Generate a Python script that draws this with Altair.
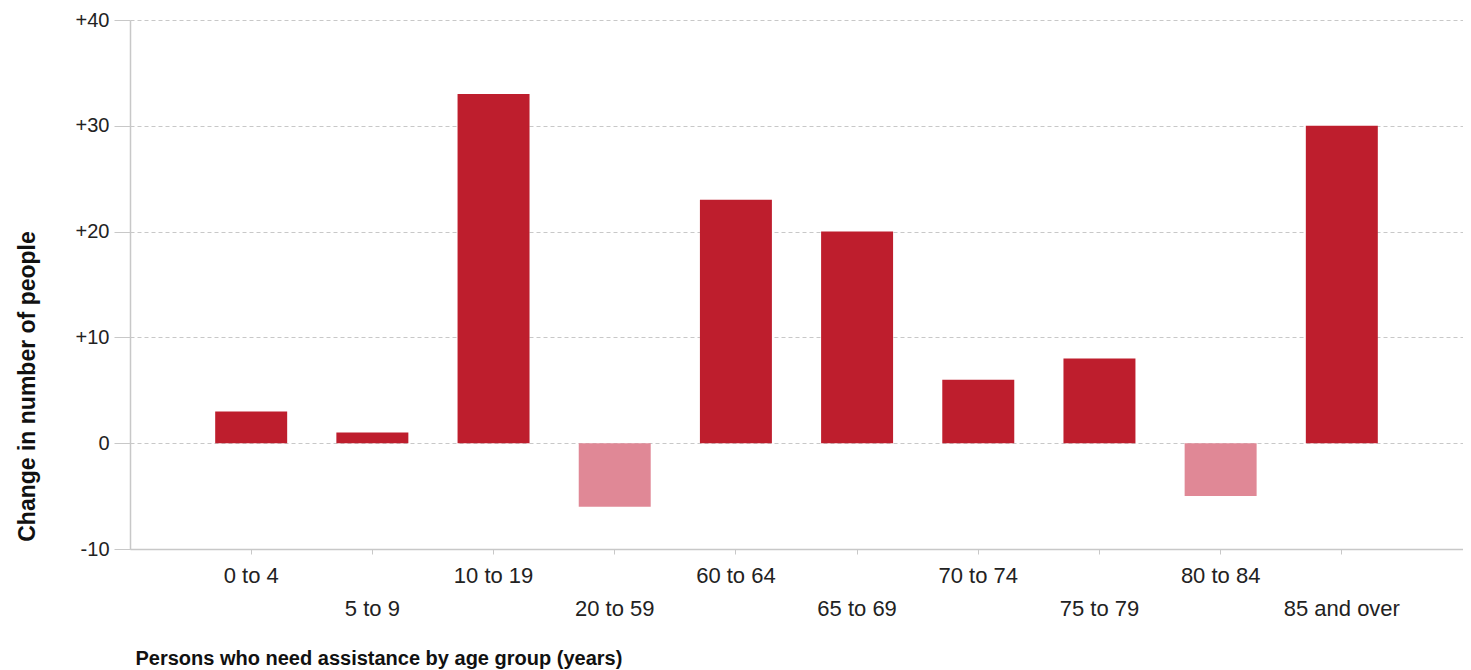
import altair as alt
import pandas as pd

age_groups = ["0 to 4", "5 to 9", "10 to 19", "20 to 59", "60 to 64",
              "65 to 69", "70 to 74", "75 to 79", "80 to 84", "85 and over"]
changes = [3, 1, 33, -6, 23, 20, 6, 8, -5, 30]
y_ticks = [-10, 0, 10, 20, 30, 40]

df = pd.DataFrame({"age": age_groups, "change": changes})

dark = "#BE1E2D"
light = "#E08896"
axis_grey = "#C8C8C8"
font = "Liberation Sans"

lower_row = [a for i, a in enumerate(age_groups) if i % 2 == 1]
lower_list = "[" + ",".join("'" + a + "'" for a in lower_row) + "]"

chart = alt.Chart(df).mark_bar().encode(
    x=alt.X(
        "age:N",
        sort=age_groups,
        scale=alt.Scale(paddingInner=0.406, paddingOuter=0.703),
        axis=alt.Axis(
            title="Persons who need assistance by age group (years)",
            titleFont=font, titleFontSize=20, titleFontWeight="bold", titleColor="#111",
            titleAnchor="start", titleAlign="left", titleX=5, titleY=109,
            titleBaseline="middle",
            labelAngle=0, labelFont=font, labelFontSize=22, labelColor="#222",
            labelPadding=11, labelBaseline="top", labelLineHeight=33,
            labelExpr="indexof(" + lower_list + ", datum.value) >= 0 ? ['', datum.value] : datum.value",
            tickSize=5, tickColor=axis_grey, domainColor=axis_grey, domainWidth=1.5,
            grid=False,
        ),
    ),
    y=alt.Y(
        "change:Q",
        scale=alt.Scale(domain=[-10, 40], nice=False),
        axis=alt.Axis(
            title="Change in number of people",
            titleFont=font, titleFontSize=23, titleFontWeight="bold", titleColor="#111",
            titleAngle=270, titleAlign="center", titleBaseline="middle",
            titleX=-103, titleY=366,
            values=y_ticks,
            labelExpr="datum.value > 0 ? '+' + datum.value : '' + datum.value",
            labelFont=font, labelFontSize=20, labelColor="#222", labelPadding=5,
            tickSize=16, tickColor=axis_grey, domainColor=axis_grey, domainWidth=1.5,
            grid=True, gridColor="#C8C8C8", gridDash=[4, 3], gridWidth=1,
        ),
    ),
    color=alt.condition(alt.datum.change < 0, alt.value(light), alt.value(dark)),
).properties(
    width=1333,
    height=529,
    autosize=alt.AutoSizeParams(type="none"),
    padding={"left": 122, "top": 12, "right": 0, "bottom": 125},
).configure_view(stroke=None)

chart.save("out.html", embed_options={"renderer": "svg", "actions": False})
